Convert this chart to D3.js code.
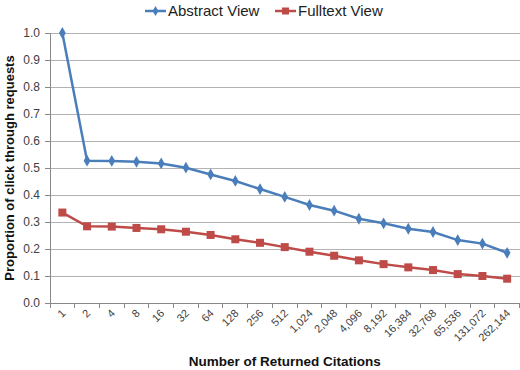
<!DOCTYPE html>
<html><head><meta charset="utf-8">
<script src="https://cdn.jsdelivr.net/npm/d3@7/dist/d3.min.js"></script>
<style>body{margin:0;background:#fff}svg{display:block}text{font-family:"Liberation Sans","Open Sans",sans-serif}</style>
</head><body><svg id="c" width="520" height="370"></svg>
<script>
const categories = ["1","2","4","8","16","32","64","128","256","512","1,024","2,048","4,096","8,192","16,384","32,768","65,536","131,072","262,144"];
const abstractView = [1.0,0.527,0.526,0.523,0.517,0.501,0.476,0.452,0.422,0.393,0.363,0.342,0.312,0.295,0.275,0.263,0.233,0.220,0.186];
const fulltextView = [0.335,0.284,0.283,0.278,0.273,0.264,0.252,0.236,0.223,0.207,0.190,0.175,0.158,0.144,0.132,0.122,0.107,0.100,0.090];
const yTicks = [0,0.1,0.2,0.3,0.4,0.5,0.6,0.7,0.8,0.9,1.0];
const seriesNames = ["Abstract View","Fulltext View"];

const svg = d3.select("#c");
const L=50, R=519.5, T=33, B=303;
const x = d3.scaleBand().domain(categories).range([L,R]);
const y = d3.scaleLinear().domain([0,1]).range([B,T]);

// gridlines
svg.append("g").selectAll("line").data(yTicks.slice(1)).join("line")
  .attr("x1",L).attr("x2",R).attr("y1",d=>y(d)).attr("y2",d=>y(d))
  .attr("stroke","#b3b3b3").attr("stroke-width",1).attr("shape-rendering","crispEdges");

// y axis
const ya = svg.append("g").attr("transform",`translate(${L},0)`)
  .call(d3.axisLeft(y).tickValues(yTicks).tickFormat(d3.format(".1f")).tickSize(5).tickPadding(5));
ya.select(".domain").attr("stroke","#888");
ya.selectAll(".tick line").attr("stroke","#888");
ya.selectAll("text").attr("font-size",12).attr("fill","#404040");

// x axis
const xa = svg.append("g").attr("transform",`translate(0,${B})`)
  .call(d3.axisBottom(x).tickSize(0).tickPadding(0));
xa.select(".domain").attr("stroke","#888");
xa.selectAll(".tick text").attr("font-size",11).attr("fill","#404040")
  .attr("text-anchor","end").attr("dy",0)
  .attr("transform","translate(4,11) rotate(-45)");
// x tick marks at band boundaries
svg.append("g").selectAll("line").data(categories.concat(["_end"])).join("line")
  .attr("x1",(d,i)=>L+i*x.step()).attr("x2",(d,i)=>L+i*x.step())
  .attr("y1",B).attr("y2",B+5).attr("stroke","#888").attr("shape-rendering","crispEdges");

const cx = d=>x(d)+x.bandwidth()/2;
const line = d3.line().x((d,i)=>cx(categories[i])).y(d=>y(d));
const colors = ["#4a7ebb","#be4b48"];

svg.append("path").datum(abstractView).attr("d",line).attr("fill","none").attr("stroke",colors[0]).attr("stroke-width",2.5);
svg.append("path").datum(fulltextView).attr("d",line).attr("fill","none").attr("stroke",colors[1]).attr("stroke-width",2.5);

const diamond = d3.symbol().type(d3.symbolDiamond).size(40);
svg.append("g").selectAll("path").data(abstractView).join("path")
  .attr("d",diamond).attr("transform",(d,i)=>`translate(${cx(categories[i])},${y(d)})`).attr("fill",colors[0]);
svg.append("g").selectAll("rect").data(fulltextView).join("rect")
  .attr("x",(d,i)=>cx(categories[i])-4).attr("y",d=>y(d)-4).attr("width",8).attr("height",8).attr("fill",colors[1]);

// legend
const leg = svg.append("g");
const lg = [{x:145,name:seriesNames[0],c:colors[0],t:"d"},{x:275,name:seriesNames[1],c:colors[1],t:"s"}];
lg.forEach(o=>{
  leg.append("line").attr("x1",o.x).attr("x2",o.x+21).attr("y1",11).attr("y2",11).attr("stroke",o.c).attr("stroke-width",2.5);
  if(o.t==="d") leg.append("path").attr("d",d3.symbol().type(d3.symbolDiamond).size(30)).attr("transform",`translate(${o.x+10.5},11)`).attr("fill",o.c);
  else leg.append("rect").attr("x",o.x+7).attr("y",7.5).attr("width",7).attr("height",7).attr("fill",o.c);
  leg.append("text").attr("x",o.x+23).attr("y",16).attr("font-size",15).attr("fill","#222").text(o.name);
});

// axis titles
svg.append("text").attr("transform",`translate(14,${(T+B)/2}) rotate(-90)`).attr("text-anchor","middle")
  .attr("font-size",13).attr("font-weight","bold").attr("fill","#111").text("Proportion of click through requests");
svg.append("text").attr("x",(L+R)/2).attr("y",366).attr("text-anchor","middle")
  .attr("font-size",13.5).attr("font-weight","bold").attr("fill","#111").text("Number of Returned Citations");
</script></body></html>
